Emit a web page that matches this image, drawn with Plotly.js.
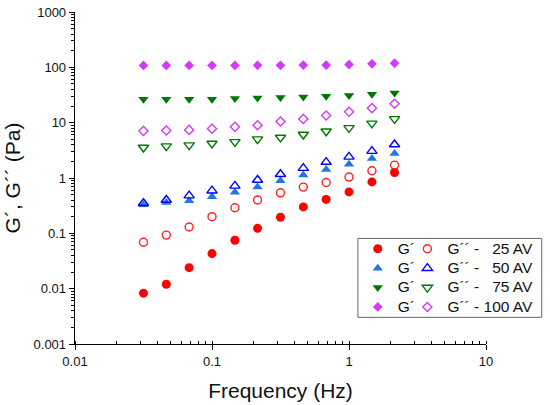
<!DOCTYPE html>
<html>
<head>
<meta charset="utf-8">
<script src="https://cdn.plot.ly/plotly-3.0.1.min.js"></script>
<style>html,body{margin:0;padding:0;background:#fff;}#chart{width:550px;height:405px;}</style>
</head>
<body>
<div id="chart"></div>
<script>
// Frequency (Hz)
const freq = [0.0316, 0.0464, 0.0681, 0.1, 0.147, 0.215, 0.316, 0.464, 0.681, 1.0, 1.47, 2.15];

// Storage modulus G' (Pa)
const gp25  = [0.0083, 0.012, 0.024, 0.043, 0.075, 0.123, 0.195, 0.30, 0.41, 0.56, 0.85, 1.26];
const gp50  = [0.33, 0.36, 0.39, 0.46, 0.55, 0.69, 0.89, 1.13, 1.43, 1.78, 2.26, 2.78];
const gp75  = [26.5, 26.5, 26.5, 26.5, 27.4, 28, 28.5, 29.2, 30, 31, 32.7, 34.4];
const gp100 = [108, 108, 108, 108, 108, 109, 109, 110, 110, 112, 116, 119];

// Loss modulus G'' (Pa)
const gpp25  = [0.069, 0.093, 0.13, 0.20, 0.29, 0.40, 0.54, 0.685, 0.83, 1.04, 1.35, 1.71];
const gpp50  = [0.35, 0.40, 0.48, 0.59, 0.72, 0.92, 1.17, 1.51, 1.94, 2.41, 3.06, 4.04];
const gpp75  = [3.56, 3.77, 3.93, 4.21, 4.5, 5.04, 5.4, 6.1, 7.0, 8.06, 9.7, 11.7];
const gpp100 = [7.1, 7.2, 7.4, 7.8, 8.4, 9.0, 10.5, 11.7, 13.5, 15.7, 18.3, 22];

const namesGp  = ['G\u00B4', 'G\u00B4', 'G\u00B4', 'G\u00B4'];
const namesGpp = ['G\u00B4\u00B4 - \u200725 AV', 'G\u00B4\u00B4 - \u200750 AV', 'G\u00B4\u00B4 - \u200775 AV', 'G\u00B4\u00B4 - 100 AV'];
const xTitle = 'Frequency (Hz)';
const yTitle = '\u00A0\u00A0\u00A0\u00A0\u00A0G\u00B4, G\u00B4\u00B4 (Pa)';

const FONT = 'Arial, "Liberation Sans", sans-serif';
const big = s => '<span style="font-size:15.5px">' + s + '</span>';

function filled(y, name, symbol, color, size) {
  return {x: freq, y: y, name: big(name), type: 'scatter', mode: 'markers', legend: 'legend',
    marker: {symbol: symbol, color: color, size: size, line: {width: 0}}};
}
function open(y, name, symbol, color, size) {
  return {x: freq, y: y, name: big(name), type: 'scatter', mode: 'markers', legend: 'legend2',
    marker: {symbol: symbol + '-open', color: color, size: size, line: {width: 1.4, color: color}}};
}

const data = [
  filled(gp25, namesGp[0], 'circle', '#ff0000', 9),
  open(gpp25, namesGpp[0], 'circle', '#ff2020', 8),
  filled(gp50, namesGp[1], 'triangle-up', '#2277dd', 9),
  open(gpp50, namesGpp[1], 'triangle-up', '#0000ff', 9),
  filled(gp75, namesGp[2], 'triangle-down', '#007700', 9),
  open(gpp75, namesGpp[2], 'triangle-down', '#007700', 9),
  filled(gp100, namesGp[3], 'diamond', '#d23cf8', 7.5),
  open(gpp100, namesGpp[3], 'diamond', '#d23cf8', 7)
];

const axisCommon = {
  type: 'log', showgrid: false, zeroline: false,
  showline: true, linecolor: '#000', linewidth: 1.3, mirror: false,
  ticks: 'outside', ticklen: 5, tickwidth: 1, tickcolor: '#000',
  tickmode: 'linear', tick0: 0, dtick: 1, exponentformat: 'none',
  tickfont: {family: FONT, size: 13, color: '#111'}
};

const legendCommon = {
  y: 0.331, xanchor: 'left', yanchor: 'top',
  bgcolor: 'rgba(0,0,0,0)', borderwidth: 0, tracegroupgap: 0,
  font: {family: FONT, size: 12.6, color: '#111'}
};

const layout = {
  width: 550, height: 405,
  margin: {l: 75, r: 62, t: 12, b: 61},
  paper_bgcolor: '#fff', plot_bgcolor: '#fff',
  showlegend: true,
  xaxis: Object.assign({}, axisCommon, {
    range: [-2, 1],
    minor: {dtick: 'D1', ticks: 'inside', ticklen: 3, tickcolor: '#000', tickwidth: 1},
    title: {text: xTitle, font: {family: FONT, size: 21, color: '#111'}, standoff: 15}
  }),
  yaxis: Object.assign({}, axisCommon, {
    range: [-3, 3],
    minor: {dtick: 'D1', ticks: 'outside', ticklen: 3, tickcolor: '#000', tickwidth: 1},
    title: {text: yTitle, font: {family: FONT, size: 21, color: '#111'}, standoff: 7}
  }),
  legend: Object.assign({}, legendCommon, {x: 0.688}),
  legend2: Object.assign({}, legendCommon, {x: 0.8087}),
  shapes: [{
    type: 'rect', xref: 'paper', yref: 'paper',
    x0: 0.6884, x1: 1.1356, y0: 0.0803, y1: 0.318,
    line: {color: '#666', width: 1}, fillcolor: 'rgba(0,0,0,0)'
  }]
};

Plotly.newPlot('chart', data, layout, {displayModeBar: false, staticPlot: true});
</script>
</body>
</html>
